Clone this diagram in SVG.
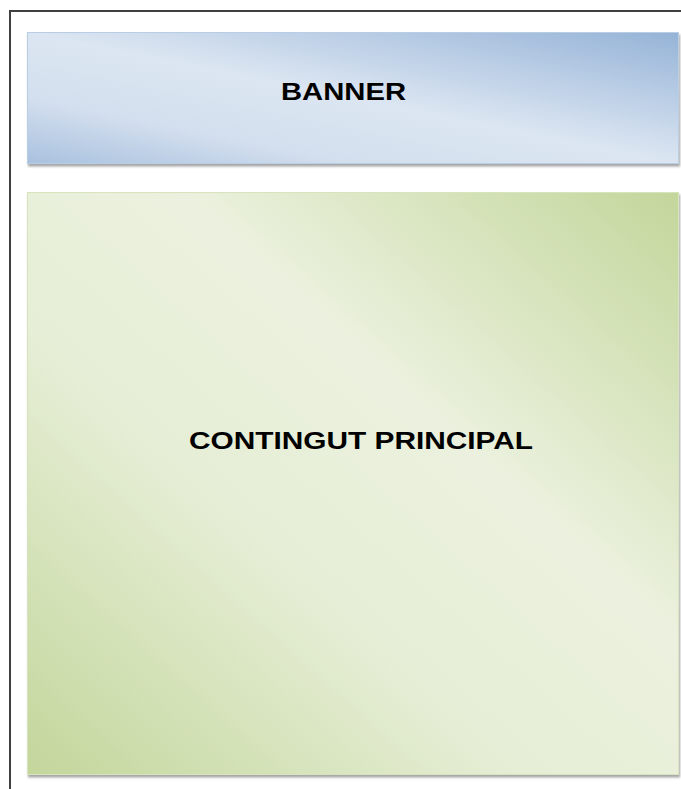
<svg xmlns="http://www.w3.org/2000/svg" width="681" height="789" viewBox="0 0 681 789">
<defs>
<linearGradient id="gBlue" x1="1" y1="0" x2="0" y2="1">
<stop offset="0" stop-color="#95b3d7"/>
<stop offset="0.5" stop-color="#dce6f2"/>
<stop offset="0.75" stop-color="#d3dfee"/>
<stop offset="1" stop-color="#a9c1df"/>
</linearGradient>
<linearGradient id="gGreen" x1="1" y1="0" x2="0" y2="1">
<stop offset="0" stop-color="#c3d69b"/>
<stop offset="0.38" stop-color="#ebf1de"/>
<stop offset="0.62" stop-color="#e6eed6"/>
<stop offset="1" stop-color="#c3d69b"/>
</linearGradient>
<filter id="sh" x="-5%" y="-5%" width="110%" height="110%">
<feDropShadow dx="1" dy="2.5" stdDeviation="1" flood-color="#000" flood-opacity="0.35"/>
</filter>
</defs>
<style>
.lbl{font-family:"Liberation Sans",Arial,sans-serif;font-weight:bold;font-size:23px;fill:#000}
</style>
<rect x="0" y="0" width="681" height="789" fill="#fff"/>
<path d="M10 789 V11 H681" fill="none" stroke="#404040" stroke-width="2"/>
<g id="banner">
<rect x="27.5" y="32.5" width="651" height="131" fill="url(#gBlue)" stroke="#b9cde5" stroke-width="1" filter="url(#sh)"/>
<text class="lbl" x="281" y="100" textLength="125" lengthAdjust="spacingAndGlyphs">BANNER</text>
</g>
<g id="contingut">
<rect x="27.5" y="192.5" width="651" height="582" fill="url(#gGreen)" stroke="#d7e4bd" stroke-width="1" filter="url(#sh)"/>
<text class="lbl" x="189" y="449" textLength="344" lengthAdjust="spacingAndGlyphs">CONTINGUT PRINCIPAL</text>
</g>
</svg>
